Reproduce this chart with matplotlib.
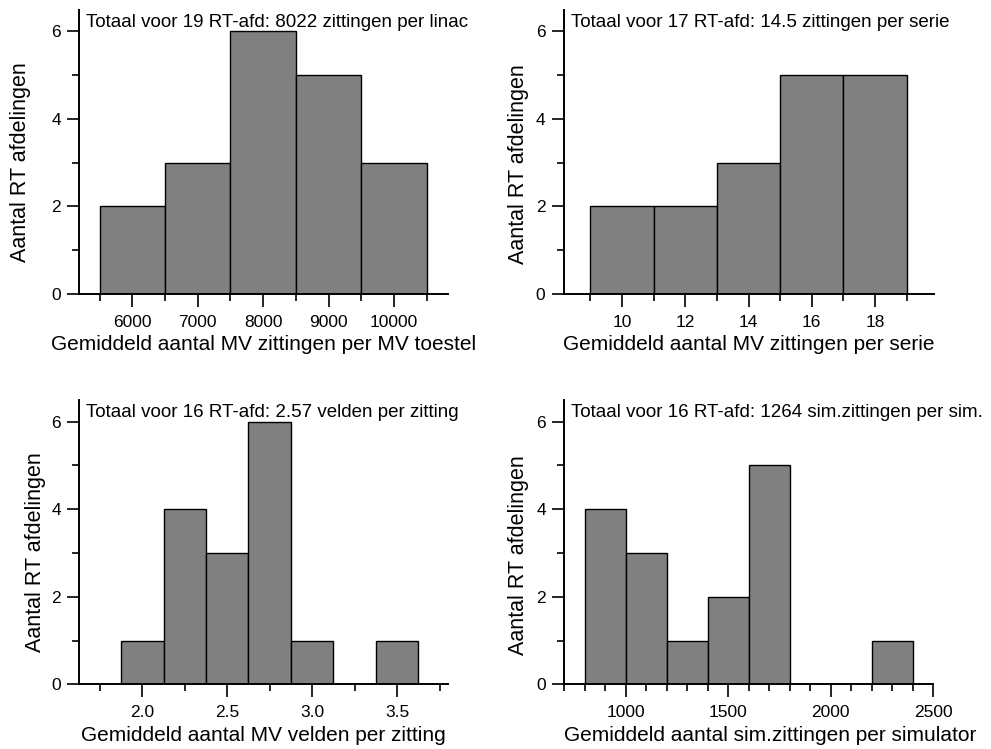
import matplotlib
matplotlib.use("Agg")
import matplotlib.pyplot as plt
from matplotlib.ticker import MultipleLocator, FuncFormatter

plt.rcParams["font.family"] = ["Liberation Sans", "DejaVu Sans"]

# Histogram data: bin centres and counts per panel
sessions_centres = [6000, 7000, 8000, 9000, 10000]
sessions_counts = [2, 3, 6, 5, 3]
sessions_width = 1000

series_centres = [10, 12, 14, 16, 18]
series_counts = [2, 2, 3, 5, 5]
series_width = 2

fields_centres = [2.0, 2.25, 2.5, 2.75, 3.0, 3.25, 3.5]
fields_counts = [1, 4, 3, 6, 1, 0, 1]
fields_width = 0.25

sim_centres = [900, 1100, 1300, 1500, 1700, 1900, 2100, 2300]
sim_counts = [4, 3, 1, 2, 5, 0, 0, 1]
sim_width = 200

titles = [
    "Totaal voor 19 RT-afd: 8022 zittingen per linac",
    "Totaal voor 17 RT-afd: 14.5 zittingen per serie",
    "Totaal voor 16 RT-afd: 2.57 velden per zitting",
    "Totaal voor 16 RT-afd: 1264 sim.zittingen per sim.",
]
xlabels = [
    "Gemiddeld aantal MV zittingen per MV toestel",
    "Gemiddeld aantal MV zittingen per serie",
    "Gemiddeld aantal MV velden per zitting",
    "Gemiddeld aantal sim.zittingen per simulator",
]
ylabel = "Aantal RT afdelingen"

W, H = 991, 749
fig = plt.figure(figsize=(W / 100, H / 100), dpi=100)

def px_axes(left, right, top, bottom):
    return fig.add_axes([left / W, 1 - bottom / H, (right - left) / W, (bottom - top) / H])

panels = [
    dict(ax=px_axes(79, 448, 9.6, 294), c=sessions_centres, n=sessions_counts, w=sessions_width,
         xlim=(5185, 10825), major=1000, minor=500, fmt="{:.0f}",
         ylab=(-0.129, 0.464), xlab=0.5),
    dict(ax=px_axes(563.5, 933.5, 9.6, 294), c=series_centres, n=series_counts, w=series_width,
         xlim=(8.15, 19.85), major=2, minor=1, fmt="{:.0f}",
         ylab=(-0.093, 0.455), xlab=0.5),
    dict(ax=px_axes(79, 448, 399.8, 684.3), c=fields_centres, n=fields_counts, w=fields_width,
         xlim=(1.627, 3.80), major=0.5, minor=0.25, fmt="{:.1f}",
         ylab=(-0.090, 0.465), xlab=0.5),
    dict(ax=px_axes(564, 933, 399.8, 684.3), c=sim_centres, n=sim_counts, w=sim_width,
         xlim=(700, 2500), major=500, minor=100, fmt="{:.0f}",
         ylab=(-0.095, 0.453), xlab=0.558),
]

for p, title, xl in zip(panels, titles, xlabels):
    ax = p["ax"]
    ax.bar(p["c"], p["n"], width=p["w"], align="center", color="#808080",
           edgecolor="black", linewidth=1.0, zorder=2)
    ax.set_xlim(*p["xlim"])
    ax.set_ylim(0, 6.5)
    for s in ("top", "right"):
        ax.spines[s].set_visible(False)
    for s in ("left", "bottom"):
        ax.spines[s].set_linewidth(1.4)
        ax.spines[s].set_zorder(3)
    ax.xaxis.set_major_locator(MultipleLocator(p["major"]))
    ax.xaxis.set_minor_locator(MultipleLocator(p["minor"]))
    ax.xaxis.set_major_formatter(FuncFormatter(lambda v, pos, f=p["fmt"]: f.format(v)))
    ax.yaxis.set_major_locator(MultipleLocator(2))
    ax.yaxis.set_minor_locator(MultipleLocator(1))
    ax.tick_params(which="major", direction="out", length=9, width=1.2,
                   labelsize=12.5, pad=4)
    ax.tick_params(which="minor", direction="out", length=5, width=1.2)
    ax.tick_params(axis="x", which="major", pad=6)
    ax.set_xlabel(xl, fontsize=15, labelpad=4)
    ax.set_ylabel(ylabel, fontsize=15.5)
    ax.yaxis.set_label_coords(*p["ylab"])
    ax.xaxis.label.set_x(p["xlab"])
    ax.text(0.02, 0.985, title, transform=ax.transAxes, ha="left", va="top",
            fontsize=13.5)

fig.savefig("out.png", dpi=100)
